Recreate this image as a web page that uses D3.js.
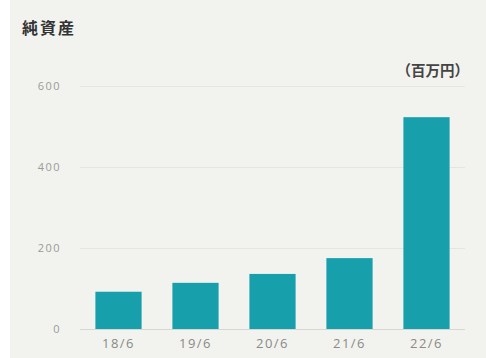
<!DOCTYPE html>
<html>
<head>
<meta charset="utf-8">
<script src="https://cdn.jsdelivr.net/npm/d3@7"></script>
<style>
  html, body { margin: 0; padding: 0; background: #ffffff; }
  svg { display: block; }
</style>
</head>
<body>
<svg id="chart" width="486" height="358"></svg>
<script>
// Net assets by fiscal period (millions of yen)
const categories = ["18/6", "19/6", "20/6", "21/6", "22/6"];
const netAssets = [92, 114, 136, 175, 523];
const yTicks = [0, 200, 400, 600];
const title = "純資産";
const unitLabel = "（百万円）";

const width = 486, height = 358;
const margin = { left: 80, right: 21, top: 86, bottom: 29 };

const svg = d3.select("#chart");

// panel background
svg.append("rect")
  .attr("x", 10).attr("y", 0)
  .attr("width", width - 10).attr("height", height)
  .attr("fill", "#f2f3ef");

const x = d3.scaleBand()
  .domain(categories)
  .range([margin.left, width - margin.right])
  .paddingInner(0.4)
  .paddingOuter(0.2);

const y = d3.scaleLinear()
  .domain([0, 600])
  .range([height - margin.bottom, margin.top]);

// horizontal grid lines
const yAxis = d3.axisLeft(y)
  .tickValues(yTicks)
  .tickSize(-(width - margin.left - margin.right))
  .tickPadding(19);

const gy = svg.append("g")
  .attr("transform", `translate(${margin.left},0)`)
  .call(yAxis);
gy.select(".domain").remove();
gy.selectAll(".tick line")
  .attr("stroke", d => d === 0 ? "#d6d7d2" : "#e5e6e1")
  .attr("stroke-width", 1);
gy.selectAll(".tick text")
  .attr("fill", "#9a9a96")
  .style("font-family", "'Open Sans', sans-serif")
  .style("font-size", "11px")
  .style("letter-spacing", "1.5px");

// bars
svg.append("g")
  .selectAll("rect")
  .data(categories.map((c, i) => ({ c, v: netAssets[i] })))
  .join("rect")
  .attr("x", d => x(d.c))
  .attr("width", x.bandwidth())
  .attr("y", d => y(d.v))
  .attr("height", d => y(0) - y(d.v))
  .attr("fill", "#17a0ac");

// category labels
const xAxis = d3.axisBottom(x).tickSize(0).tickPadding(10);
const gx = svg.append("g")
  .attr("transform", `translate(0,${y(0)})`)
  .call(xAxis);
gx.select(".domain").remove();
gx.selectAll(".tick text")
  .attr("fill", "#8a8a86")
  .style("font-family", "'Open Sans', sans-serif")
  .style("font-size", "13px")
  .style("letter-spacing", "1.5px");

// title
svg.append("text")
  .attr("x", 22).attr("y", 34)
  .attr("fill", "#333333")
  .style("font-family", "'Noto Sans CJK JP', sans-serif")
  .style("font-weight", "bold")
  .style("font-size", "16px")
  .style("letter-spacing", "2px")
  .text(title);

// unit label
svg.append("text")
  .attr("x", 469).attr("y", 76)
  .attr("text-anchor", "end")
  .attr("fill", "#444444")
  .style("font-family", "'Noto Sans CJK JP', sans-serif")
  .style("font-weight", "bold")
  .style("font-size", "14.5px")
  .text(unitLabel);
</script>
</body>
</html>
